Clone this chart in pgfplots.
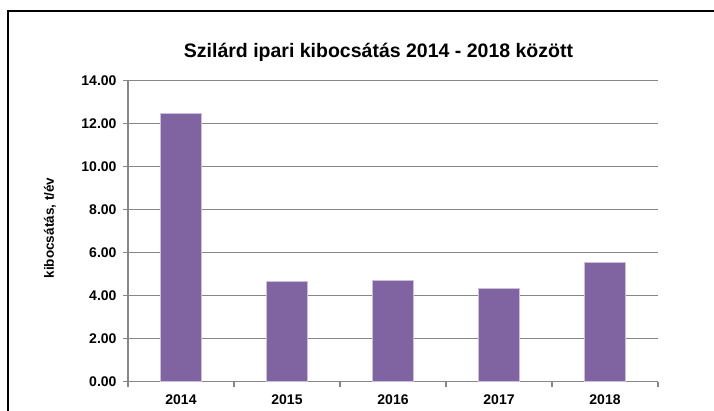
\documentclass[border=0pt]{standalone}
\usepackage{fontspec}
\setmainfont{Liberation Sans}
\usepackage{pgfplots}
\pgfplotsset{compat=1.18}
\definecolor{barfill}{HTML}{8064A2}
\definecolor{baredge}{HTML}{C9BEDB}
\definecolor{gridgray}{HTML}{878787}
\begin{document}
\begin{tikzpicture}[x=1pt,y=1pt]
\useasboundingbox (0,0) rectangle (714,410);
\clip (0,0) rectangle (714,410);
\draw[line width=2.2pt] (8.3,-20) -- (8.3,399) -- (740,399);
\node[font=\bfseries\fontsize{19.5}{21}\selectfont, anchor=base] at (378.5,352.5) {Szilárd ipari kibocsátás 2014 - 2018 között};
\begin{axis}[
  at={(128pt,28.3pt)}, anchor=south west,
  width=530pt, height=301.4pt, scale only axis,
  xmin=-0.5, xmax=4.5, ymin=0, ymax=14,
  axis x line*=bottom, axis y line*=left,
  axis line style={gridgray, line width=1.1pt},
  xtick={0,1,2,3,4},
  xticklabels={2014,2015,2016,2017,2018},
  minor xtick={-0.5,0.5,1.5,2.5,3.5,4.5},
  major x tick style={draw=none},
  minor x tick style={gridgray, line width=1.1pt},
  minor tick length=5pt,
  ytick={0,2,...,14},
  y tick style={gridgray, line width=1.1pt},
  major tick length=5pt,
  tick align=outside,
  ymajorgrids,
  major grid style={gridgray, line width=1.1pt},
  ticklabel style={font=\bfseries\fontsize{14}{15}\selectfont},
  xticklabel style={yshift=-4pt},
  /pgf/number format/assume math mode=true,
  yticklabel style={xshift=-3pt, /pgf/number format/.cd, fixed, fixed zerofill, precision=2},
  ylabel={kibocsátás,  t/év},
  ylabel style={font=\bfseries\fontsize{13.5}{14}\selectfont, at={(axis description cs:-0.147,0.51)}, anchor=center},
  clip=false,
]
\addplot[ybar, bar width=41.7pt, fill=barfill, draw=baredge, line width=0.8pt] coordinates {
  (0,12.47) (1,4.64) (2,4.70) (3,4.34) (4,5.55)
};
\end{axis}
\end{tikzpicture}
\end{document}
